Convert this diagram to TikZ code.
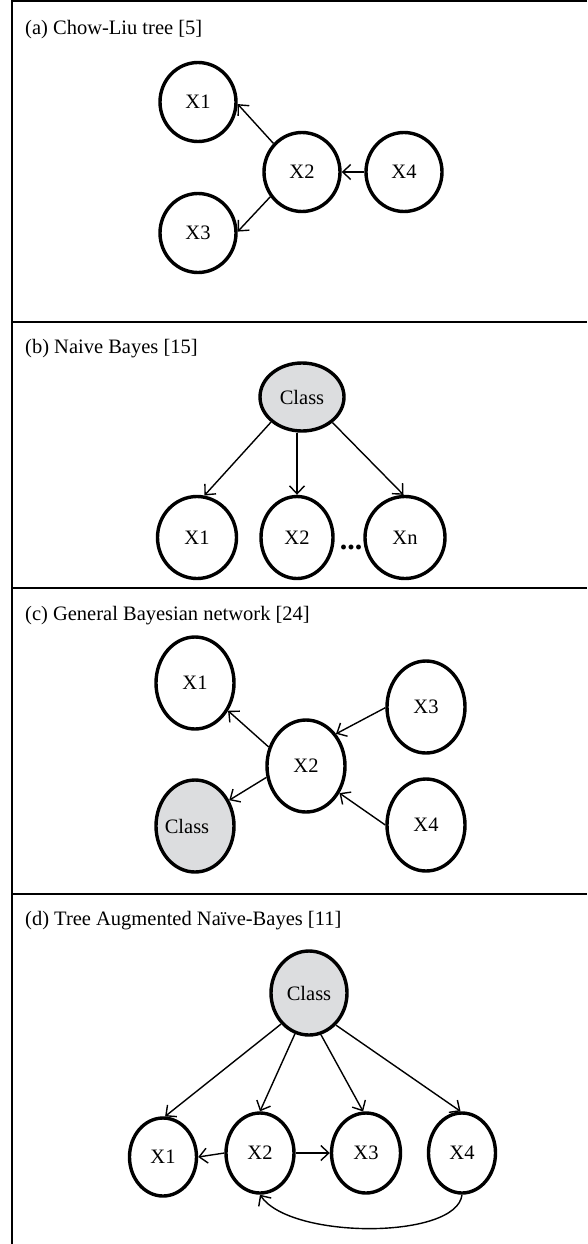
\documentclass[tikz,border=0pt]{standalone}
\usepackage{fontspec}
\setmainfont{Liberation Serif}
\usetikzlibrary{shapes.geometric,arrows.meta}
\definecolor{classgray}{RGB}{220,221,223}
\begin{document}
\begin{tikzpicture}[x=1pt,y=-1pt,
  txt/.style={font=\fontsize{20.5}{24}\selectfont},
  nd/.style={ellipse, draw, line width=3.4pt, inner sep=0pt, txt},
  cls/.style={nd, fill=classgray},
  arr/.style={line width=1.4pt, -{Straight Barb[length=8pt,width=15pt,line width=1.4pt]}},
  frame/.style={line width=2pt},
  ttl/.style={anchor=base west, inner sep=0pt, txt},
  every label/.style={txt},
]
\useasboundingbox (0,0) rectangle (587,1244);
% frame
\draw[frame] (587,1) -- (12,1) -- (12,1244);
\draw[frame] (12,322) -- (587,322);
\draw[frame] (12,587.5) -- (587,587.5);
\draw[frame] (12,893.5) -- (587,893.5);

% (a)
\node[ttl] (ta) at (25,35) {(a) Chow-Liu tree [5]};
\node[nd, minimum width=76, minimum height=79] (aX1) at (198,102) {X1};
\node[nd, minimum width=76, minimum height=79] (aX2) at (302,172) {X2};
\node[nd, minimum width=76, minimum height=79] (aX3) at (198,233) {X3};
\node[nd, minimum width=76, minimum height=79] (aX4) at (404,172) {X4};
\draw[arr] (aX2.135) -- (aX1.-3);
\draw[arr] (aX2.-142) -- (aX3.2);
\draw[arr] (aX4.180) -- (aX2.0);

% (b)
\node[ttl] (tb) at (25,353) {(b) Naive Bayes [15]};
\node[cls, minimum width=84, minimum height=68] (bC) at (302,397) {Class};
\node[nd, minimum width=79, minimum height=82] (bX1) at (197,537.5) {X1};
\node[nd, minimum width=72, minimum height=82] (bX2) at (297,537.5) {X2};
\node[nd, minimum width=80, minimum height=82] (bXn) at (405,537.5) {Xn};
\node[inner sep=0pt] (bdots) at (351,547) {\fontsize{30}{30}\selectfont\textbf{...}};
\draw[arr] (bC.-141) -- (bX1.80);
\draw[arr] (bC.south -| bX2.north) -- (bX2.north);
\draw[arr] (bC.-40) -- (bXn.92);

% (c)
\node[ttl] (tc) at (25,620) {(c) General Bayesian network [24]};
\node[nd, minimum width=78, minimum height=92] (cX1) at (195,683) {X1};
\node[nd, minimum width=78, minimum height=92] (cX2) at (306,766) {X2};
\node[nd, minimum width=78, minimum height=92] (cX3) at (426,707) {X3};
\node[nd, minimum width=78, minimum height=92] (cX4) at (426,825) {X4};
\node[cls, minimum width=78, minimum height=92, label={[xshift=-8pt]center:Class}] (cC) at (195,826) {};
\draw[arr] (cX2.153) -- (cX1.-40);
\draw[arr] (cX3.181) -- (cX2.47);
\draw[arr] (cX2.-164) -- (cC.37);
\draw[arr] (cX4.180) -- (cX2.-39);

% (d)
\node[ttl] (td) at (25,925) {(d) Tree Augmented Na\"ive-Bayes [11]};
\node[cls, minimum width=76, minimum height=84] (dC) at (309,993) {Class};
\node[nd, minimum width=67, minimum height=78] (dX1) at (163,1157) {X1};
\node[nd, minimum width=68, minimum height=80] (dX2) at (260,1153) {X2};
\node[nd, minimum width=69, minimum height=80] (dX3) at (366,1153) {X3};
\node[nd, minimum width=67, minimum height=80] (dX4) at (462,1153) {X4};
\draw[arr] (dC.-132) -- (dX1.87);
\draw[arr] (dC.-109) -- (dX2.90);
\draw[arr] (dC.-74) -- (dX3.94);
\draw[arr] (dC.-50) -- (dX4.92);
\draw[arr] (dX2.180) -- (dX1.0);
\draw[arr] (dX2.0) -- (dX3.180);
\draw[arr] (dX4.south) .. controls +(-5,45) and +(30,45) .. (dX2.south);
\end{tikzpicture}
\end{document}
